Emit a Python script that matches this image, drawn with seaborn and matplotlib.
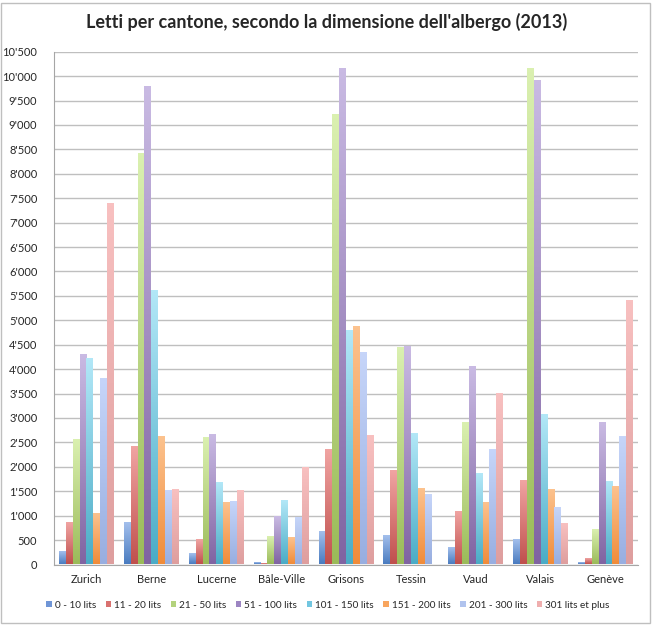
import numpy as np
import pandas as pd
import matplotlib.pyplot as plt
import seaborn as sns
from matplotlib.colors import to_rgb
from matplotlib.ticker import FuncFormatter, MultipleLocator, FixedLocator
from matplotlib.patches import Rectangle

# Data
cantons = ['Zurich', 'Berne', 'Lucerne', 'Bâle-Ville', 'Grisons',
           'Tessin', 'Vaud', 'Valais', 'Genève']
sizes = ['0 - 10 lits', '11 - 20 lits', '21 - 50 lits', '51 - 100 lits',
         '101 - 150 lits', '151 - 200 lits', '201 - 300 lits', '301 lits et plus']

lits_0_10 = [250, 840, 220, 40, 660, 590, 330, 500, 40]
lits_11_20 = [840, 2400, 500, 20, 2350, 1920, 1070, 1700, 110]
lits_21_50 = [2550, 8400, 2600, 570, 9200, 4440, 2900, 10150, 700]
lits_51_100 = [4280, 9780, 2650, 980, 10150, 4450, 4040, 9900, 2900]
lits_101_150 = [4200, 5600, 1660, 1300, 4780, 2680, 1850, 3060, 1680]
lits_151_200 = [1030, 2620, 1250, 540, 4860, 1550, 1260, 1520, 1590]
lits_201_300 = [3800, 1500, 1270, 960, 4340, 1420, 2350, 1160, 2620]
lits_301_plus = [7380, 1520, 1500, 1980, 2640, 0, 3500, 820, 5400]

series = [lits_0_10, lits_11_20, lits_21_50, lits_51_100,
          lits_101_150, lits_151_200, lits_201_300, lits_301_plus]

# legend / base colours, plus light (top) and dark (bottom) ends of the bar gradient
colors = ['#6F95D6', '#D9716F', '#B3D27C', '#9C85C2',
          '#72C6E0', '#F8A55E', '#B0C3EE', '#EFAEAE']
tops = ['#A3BFEC', '#F0A4A2', '#DAF0B0', '#C9BAE3',
        '#B2E7F7', '#FCC28E', '#C6D5F9', '#F8C0C0']
bottoms = ['#4A7CC0', '#C0504D', '#9BBB59', '#8064A2',
           '#4BACC6', '#F08C3A', '#98AEE0', '#DE9E9E']

rows = []
for size, vals in zip(sizes, series):
    for canton, v in zip(cantons, vals):
        rows.append({'Canton': canton, 'Taille': size, 'Lits': v})
df = pd.DataFrame(rows)

sns.set_style('white')
plt.rcParams['font.family'] = ['Lato', 'DejaVu Sans']

fig = plt.figure(figsize=(6.53, 6.25), dpi=100)
ax = fig.add_axes([54 / 653, 1 - 564.5 / 625, 584 / 653, 512.8 / 625])

sns.barplot(data=df, x='Canton', y='Lits', hue='Taille', order=cantons,
            hue_order=sizes, palette=colors, saturation=1, width=0.845, gap=0,
            edgecolor='none', linewidth=0, ax=ax, legend=True)

# gradient fill on each bar (light at the top, darker at the bottom)
n_cat = len(cantons)
for i, patch in enumerate(ax.patches[:n_cat * len(sizes)]):
    k = i // n_cat
    h = patch.get_height()
    if h <= 0:
        continue
    x0 = patch.get_x()
    w = patch.get_width()
    t = np.linspace(0, 1, 64)[:, None]
    grad = (1 - t) * np.array(to_rgb(tops[k])) + t * np.array(to_rgb(bottoms[k]))
    ax.imshow(grad[:, None, :], extent=[x0, x0 + w, 0, h], aspect='auto',
              origin='upper', zorder=2, interpolation='bilinear')
    patch.set_visible(False)
ax.set_xlim(-0.5, n_cat - 0.5)
ax.set_ylim(0, 10500)

ax.yaxis.set_major_locator(MultipleLocator(500))
ax.yaxis.set_major_formatter(FuncFormatter(lambda v, p: f"{int(v):,}".replace(',', "'")))
ax.grid(axis='y', color='#BFBFBF', linewidth=1)
ax.set_axisbelow(True)

for side in ['top', 'right']:
    ax.spines[side].set_visible(False)
for side in ['left', 'bottom']:
    ax.spines[side].set_color('#A6A6A6')

ax.tick_params(axis='y', length=4, color='#A6A6A6', labelsize=8, pad=8)
ax.tick_params(axis='x', length=0, labelsize=8, pad=7)
ax.xaxis.set_minor_locator(FixedLocator([i - 0.5 for i in range(n_cat + 1)]))
ax.tick_params(axis='x', which='minor', length=4, color='#A6A6A6', direction='out')
ax.set_xlabel('')
ax.set_ylabel('')

handles, labels = ax.get_legend_handles_labels()
ax.get_legend().remove()
fig.legend(handles, labels, loc='center', bbox_to_anchor=(328 / 653, 1 - 605 / 625),
           ncol=8, frameon=False, fontsize=7.2, handlelength=0.55, handleheight=0.55,
           handletextpad=0.3, columnspacing=0.95)

fig.suptitle("Letti per cantone, secondo la dimensione dell'albergo (2013)",
             fontsize=13, fontweight='bold', y=0.965, va='center')

fig.patches.append(Rectangle((0.002, 0.004), 0.994, 0.992, transform=fig.transFigure,
                             fill=False, edgecolor='#BFBFBF', linewidth=1))

plt.savefig('out.png', dpi=100)
